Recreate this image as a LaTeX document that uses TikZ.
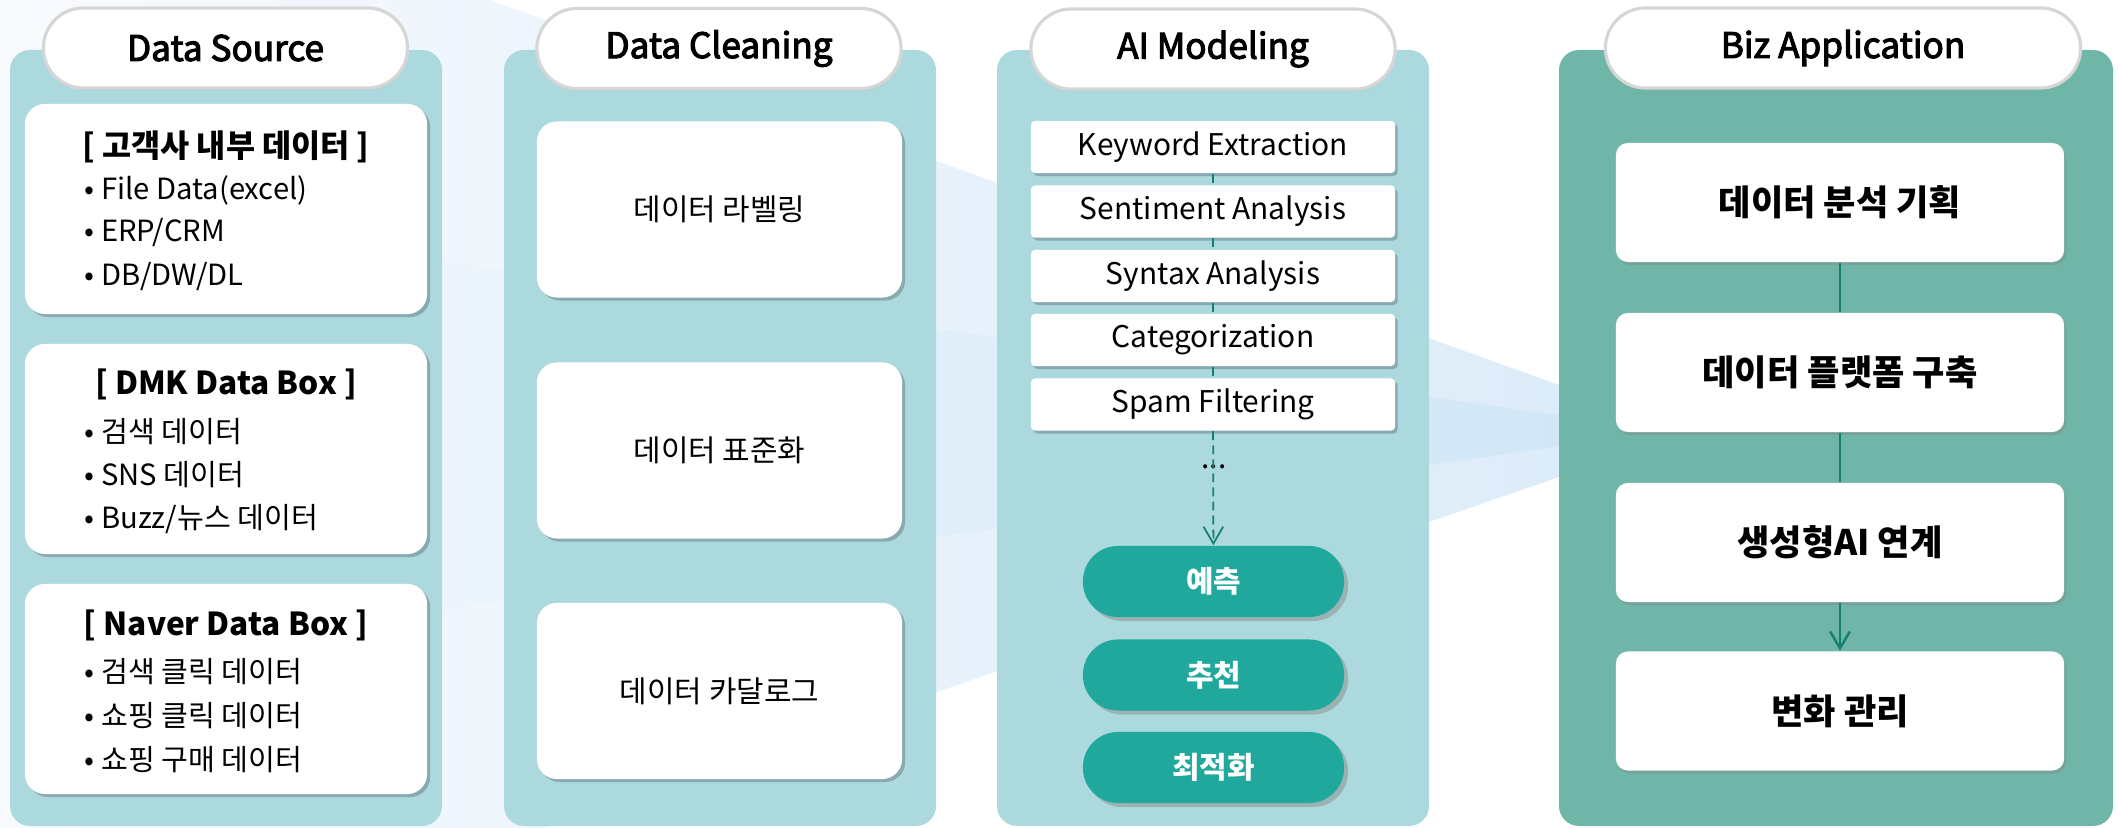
\documentclass[tikz,border=0pt]{standalone}
\usepackage{fontspec}
\setmainfont{Noto Sans CJK KR}
\newfontfamily\headfont[FakeBold=3]{Noto Sans CJK KR}
\usetikzlibrary{arrows.meta,shadows}

\definecolor{panelblue}{RGB}{172,217,222}
\definecolor{bizgreen}{RGB}{112,182,168}
\definecolor{pillteal}{RGB}{32,168,157}
\definecolor{lineteal}{RGB}{22,128,112}
\definecolor{boxshadow}{RGB}{136,170,176}
\definecolor{beamout}{RGB}{221,236,249}
\definecolor{beamin}{RGB}{209,231,247}
\definecolor{beamfade}{RGB}{248,250,254}

\begin{document}
\begin{tikzpicture}[x=0.01cm, y=-0.01cm,
  panel/.style={fill=panelblue, rounded corners=0.2cm},
  header/.style={draw=black!16, line width=0.9pt, fill=white, rounded corners=0.4cm,
    minimum width=3.64cm, minimum height=0.8cm, inner sep=0pt,
    font=\fontsize{10}{12}\headfont,
    drop shadow={shadow xshift=0pt, shadow yshift=-0.02cm, opacity=0.12}},
  srcbox/.style={fill=white, rounded corners=0.2cm, minimum width=4.02cm, minimum height=2.1cm,
    drop shadow={shadow xshift=0.03cm, shadow yshift=-0.03cm, fill=boxshadow, opacity=1}},
  srchead/.style={inner sep=0pt, font=\fontsize{9}{11}\selectfont\bfseries},
  srcitem/.style={anchor=west, inner sep=0pt, font=\fontsize{8.3}{10}\selectfont},
  clnbox/.style={fill=white, rounded corners=0.2cm, minimum width=3.65cm, minimum height=1.76cm,
    font=\fontsize{8.5}{10}\selectfont,
    drop shadow={shadow xshift=0.03cm, shadow yshift=-0.03cm, fill=boxshadow, opacity=1}},
  aibar/.style={fill=white, rounded corners=0.04cm, minimum width=3.64cm, minimum height=0.52cm,
    inner sep=0pt, font=\fontsize{8.5}{10}\selectfont,
    drop shadow={shadow xshift=0.025cm, shadow yshift=-0.03cm, fill=boxshadow, opacity=1}},
  aipill/.style={fill=pillteal, rounded corners=0.35cm, minimum width=2.61cm, minimum height=0.71cm,
    inner sep=0pt, text=white, font=\fontsize{8.5}{10}\selectfont\bfseries,
    drop shadow={shadow xshift=0.04cm, shadow yshift=-0.04cm, fill=black!45, opacity=0.5}},
  bizbox/.style={fill=white, rounded corners=0.12cm, minimum width=4.48cm, minimum height=1.19cm,
    font=\fontsize{10}{12}\selectfont\bfseries,
    drop shadow={shadow xshift=0.02cm, shadow yshift=-0.03cm, fill=black!50, opacity=0.35}},
  aiflow/.style={draw=lineteal, line width=0.5pt, dash pattern=on 2.5pt off 1.5pt},
  bizflow/.style={draw=lineteal, line width=0.7pt}]

\useasboundingbox (0,0) rectangle (2118,828);

% light beams behind the panels
\begin{scope}
\clip (0,0) rectangle (2118,828);
\shade[left color=beamfade, right color=beamout] (0,-176) -- (1559,385) -- (1559,477) -- (0,1016) -- cycle;
\shade[left color=beamfade, right color=beamin] (0,200) -- (1559,415) -- (1559,446) -- (0,674) -- cycle;
\end{scope}

% Data Source
\fill[panel] (10,50) rectangle (442,826);
\node[header] (hsrc) at (225.5,48) {Data Source};
\node[srcbox] (src1) at (226,209) {};
\node[srchead] (src1h) at (226,147) {[ 고객사 내부 데이터 ]};
\node[srcitem] (src1a) at (84,190) {• File Data(excel)};
\node[srcitem] (src1b) at (84,233) {• ERP/CRM};
\node[srcitem] (src1c) at (84,277) {• DB/DW/DL};
\node[srcbox] (src2) at (226,449) {};
\node[srchead] (src2h) at (226,384) {[ DMK Data Box ]};
\node[srcitem] (src2a) at (84,432) {• 검색 데이터};
\node[srcitem] (src2b) at (84,475) {• SNS 데이터};
\node[srcitem] (src2c) at (84,519) {• Buzz/뉴스 데이터};
\node[srcbox] (src3) at (226,689) {};
\node[srchead] (src3h) at (226,625) {[ Naver Data Box ]};
\node[srcitem] (src3a) at (84,672) {• 검색 클릭 데이터};
\node[srcitem] (src3b) at (84,716) {• 쇼핑 클릭 데이터};
\node[srcitem] (src3c) at (84,760) {• 쇼핑 구매 데이터};

% Data Cleaning
\fill[panel] (504,50) rectangle (936,826);
\node[header] (hcln) at (719,48.5) {Data Cleaning};
\node[clnbox] (cln1) at (719.5,209.5) {데이터 라벨링};
\node[clnbox] (cln2) at (719.5,450.5) {데이터 표준화};
\node[clnbox] (cln3) at (719.5,691) {데이터 카달로그};

% AI Modeling
\fill[panel] (997,50) rectangle (1429,826);
\node[header] (hai) at (1213,49) {AI Modeling};
\node[aibar] (kw) at (1213,147) {Keyword Extraction};
\node[aibar] (sent) at (1213,211.5) {Sentiment Analysis};
\node[aibar] (syn) at (1213,276) {Syntax Analysis};
\node[aibar] (cat) at (1213,340) {Categorization};
\node[aibar] (spam) at (1213,404.5) {Spam Filtering};
\node[anchor=base, inner sep=0pt, font=\fontsize{8.5}{10}\selectfont] (more) at (1214,469) {...};
\node[aipill] (pred) at (1213.5,581.5) {예측};
\node[aipill] (rec) at (1213.5,675) {추천};
\node[aipill] (opt) at (1213.5,767.5) {최적화};
\draw[aiflow] (kw) -- (sent);
\draw[aiflow] (sent) -- (syn);
\draw[aiflow] (syn) -- (cat);
\draw[aiflow] (cat) -- (spam);
\draw[aiflow, -{Straight Barb[length=4.8pt, width=5.6pt]}] (spam) -- (pred);

% Biz Application
\fill[bizgreen, rounded corners=0.2cm] (1559,50) rectangle (2113,826);
\node[header, minimum width=4.75cm] (hbiz) at (1843,48) {Biz Application};
\node[bizbox] (plan) at (1840,202.5) {데이터 분석 기획};
\node[bizbox] (plat) at (1840,372.5) {데이터 플랫폼 구축};
\node[bizbox] (gen) at (1840,542.5) {생성형AI 연계};
\node[bizbox] (chg) at (1840,711) {변화 관리};
\draw[bizflow] (plan) -- (plat);
\draw[bizflow] (plat) -- (gen);
\draw[bizflow, -{Straight Barb[length=4.8pt, width=5.6pt]}] (gen) -- (chg);
\end{tikzpicture}
\end{document}
